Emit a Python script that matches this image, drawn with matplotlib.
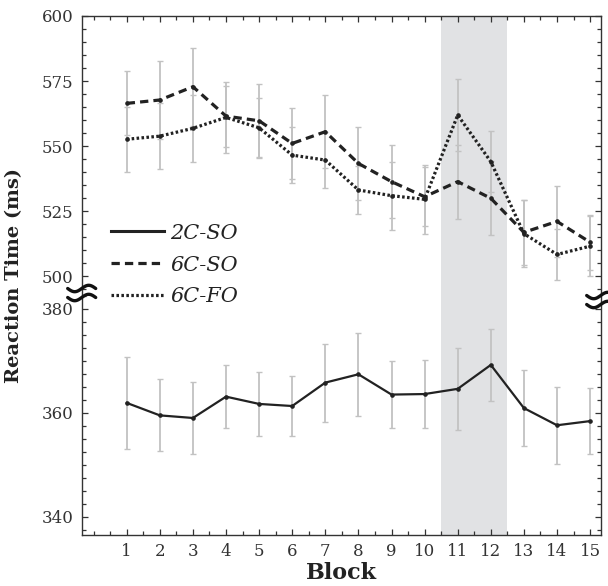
import numpy as np
import matplotlib
matplotlib.use("Agg")
import matplotlib.pyplot as plt
from matplotlib.lines import Line2D
from matplotlib.ticker import FixedLocator, FixedFormatter

# ---------------- data ----------------
blocks = list(range(1, 16))
rt_2c_so = [361.9, 359.5, 359.0, 363.1, 361.7, 361.3, 365.8, 367.4, 363.5, 363.6, 364.6, 369.2, 360.9, 357.6, 358.4]
err_2c_so = [8.9, 6.9, 7.0, 6.1, 6.2, 5.8, 7.5, 8.0, 6.5, 6.6, 7.9, 7.0, 7.3, 7.4, 6.4]
rt_6c_so = [566.4, 567.7, 572.8, 561.5, 559.7, 551.0, 555.5, 543.3, 536.3, 530.5, 536.3, 529.9, 516.8, 521.0, 513.0]
err_6c_so = [12.3, 15.1, 15.0, 11.7, 14.0, 13.8, 14.0, 14.2, 14.0, 11.4, 14.2, 14.2, 12.6, 13.5, 10.5]
rt_6c_fo = [552.6, 553.8, 556.8, 561.0, 557.0, 546.5, 544.6, 533.1, 530.9, 529.5, 561.9, 544.0, 516.3, 508.3, 511.5]
err_6c_fo = [12.4, 12.7, 12.8, 13.6, 11.5, 10.7, 10.9, 9.3, 13.0, 13.2, 13.8, 11.7, 13.0, 9.9, 11.5]
series_labels = ["2C-SO", "6C-SO", "6C-FO"]
y_major = [340, 360, 380, 500, 525, 550, 575, 600]
x_labels = [str(b) for b in blocks]
shade_blocks = (10.5, 12.5)

# ---------------- broken y scale ----------------
Y_MIN, Y_MAX = 336.5, 600.0
S_BOT, S_TOP = 5.2, 2.6
B_TOP = 493.5
U_BRK = 242.0
B_BOT = Y_MIN + U_BRK / S_BOT


def fwd(v):
    v = np.asarray(v, float)
    return np.where(v <= B_BOT, (v - Y_MIN) * S_BOT,
                    np.where(v >= B_TOP, U_BRK + (v - B_TOP) * S_TOP, U_BRK))


def inv(u):
    u = np.asarray(u, float)
    return np.where(u <= U_BRK, u / S_BOT + Y_MIN, B_TOP + (u - U_BRK) / S_TOP)


plt.rcParams['font.family'] = ['DejaVu Serif']
W, H = 608, 586
fig = plt.figure(figsize=(W / 100, H / 100), dpi=100)
L, R, T, B = 81.7, 600.7, 16.0, 535.0
ax = fig.add_axes([L / W, 1 - B / H, (R - L) / W, (B - T) / H])
ax.set_yscale('function', functions=(fwd, inv))
ax.set_ylim(Y_MIN, Y_MAX)
ax.set_xlim(-0.36, 15.32)

ax.axvspan(*shade_blocks, color='#e1e2e4', lw=0, zorder=0)

ecol = '#c2c2c2'
lcol = '#222222'
for y, e in [(rt_6c_so, err_6c_so), (rt_6c_fo, err_6c_fo), (rt_2c_so, err_2c_so)]:
    ax.errorbar(blocks, y, yerr=e, fmt='none', ecolor=ecol, elinewidth=1.3,
                capsize=2.2, capthick=1.0, zorder=2)

ax.plot(blocks, rt_2c_so, color=lcol, lw=1.6, marker='o', ms=2.3, zorder=4)
ax.plot(blocks, rt_6c_so, color=lcol, lw=2.3, linestyle=(0, (2.6, 1.6)),
        dash_capstyle='butt', marker='o', ms=2.3, zorder=4)
ax.plot(blocks, rt_6c_fo, color=lcol, lw=2.3, linestyle=(0, (0.8, 0.75)),
        dash_capstyle='butt', marker='o', ms=2.3, zorder=4)

# ticks
minor_y = [v for v in np.arange(337.5, 383.0, 2.5) if v not in y_major] + \
          [v for v in np.arange(495, 600, 5) if v not in y_major]
ax.yaxis.set_major_locator(FixedLocator(y_major))
ax.yaxis.set_major_formatter(FixedFormatter([str(v) for v in y_major]))
ax.yaxis.set_minor_locator(FixedLocator(minor_y))
ax.xaxis.set_major_locator(FixedLocator(blocks))
ax.xaxis.set_major_formatter(FixedFormatter(x_labels))
ax.xaxis.set_minor_locator(FixedLocator(list(np.arange(0, 15.01, 0.5))))
ax.tick_params(which='both', direction='in', top=True, right=True, color='#333333', width=0.9)
ax.tick_params(which='major', length=4)
ax.tick_params(which='minor', length=3)
ax.tick_params(axis='y', labelsize=12, pad=6, labelcolor='#333333')
ax.tick_params(axis='x', labelsize=12, pad=6, labelcolor='#333333')
for sp in ax.spines.values():
    sp.set_color('#333333')
    sp.set_linewidth(1.0)

ax.set_xlabel('Block', fontsize=16, fontweight='bold', color='#222222', labelpad=1)
ax.set_ylabel('Reaction Time (ms)', fontsize=14, fontweight='bold', color='#222222', labelpad=13)

# legend
handles = [Line2D([], [], color=lcol, lw=2.2),
           Line2D([], [], color=lcol, lw=2.3, linestyle=(0, (2.6, 1.6))),
           Line2D([], [], color=lcol, lw=2.3, linestyle=(0, (0.8, 0.75)))]
leg = ax.legend(handles, series_labels, loc='upper left', bbox_to_anchor=(0.056, 0.600),
                frameon=False, borderpad=0, borderaxespad=0, handlelength=2.55,
                handletextpad=0.3, labelspacing=0.62,
                prop={'family': 'DejaVu Serif', 'style': 'italic', 'size': 15})
for t in leg.get_texts():
    t.set_color('#222222')

# axis-break marks
def brk(cx, cy):
    t = np.linspace(0, 1, 60)
    xs = cx + (t - 0.5) * 28
    for off in (-4.5, 4.5):
        ys = cy + off + 3.2 * np.sin(2 * np.pi * t)
        fig.add_artist(Line2D(xs / W, (H - ys) / H,
                              transform=fig.transFigure, color='#111111', lw=2.4,
                              solid_capstyle='round', clip_on=False, zorder=10))

brk(L, 293)
brk(R, 300)

fig.savefig('out.png', dpi=100)
